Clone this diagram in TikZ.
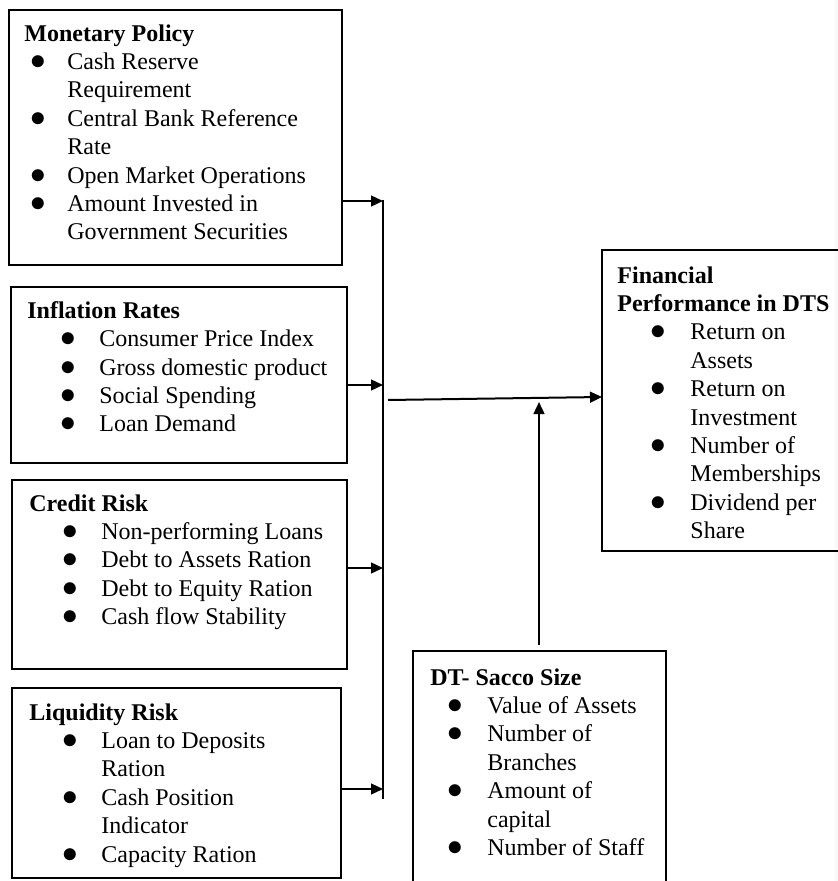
\documentclass[tikz,border=0pt]{standalone}
\usepackage{fontspec}
\setmainfont{Liberation Serif}
\usepackage{amssymb}
\usetikzlibrary{arrows.meta}

% bullet lines
\newcommand{\itm}[1]{\hspace*{\bulx}\makebox[0pt]{\scalebox{1.3}{$\bullet$}}\hspace*{\dimexpr\txtx-\bulx\relax}#1}
\newcommand{\cnt}[1]{\hspace*{\txtx}#1}

\tikzset{
	box/.style={draw, line width=1.1pt, anchor=north west, inner sep=0pt, outer sep=0pt},
	txt/.style={anchor=north west, inner sep=0pt, align=left, font=\fontsize{12}{14.2}\selectfont},
	ind/.style 2 args={execute at begin node={\def\bulx{#1}\def\txtx{#2}}},
	arr/.style={-{Triangle[length=6pt,width=5.4pt]}, line width=1pt},
	ln/.style={line width=1pt}
}

\begin{document}
\begin{tikzpicture}[x=0.5pt,y=-0.5pt]
			\useasboundingbox (0,0) rectangle (838,881);
			\fill[gray!5] (835,0) rectangle (838,881);
			% Boxes
			\node[box, minimum width=166.5pt, minimum height=127.5pt] (mon) at (9,10) {};
			\node[box, minimum width=168pt, minimum height=88pt] (inf) at (11,287) {};
			\node[box, minimum width=167.5pt, minimum height=94.5pt] (cre) at (12,480) {};
			\node[box, minimum width=164.5pt, minimum height=95pt] (liq) at (12,688) {};
			\node[box, minimum width=130pt, minimum height=150.5pt] (fin) at (602,250) {};
			\node[box, minimum width=126.5pt, minimum height=130pt] (dts) at (413,651) {};
			% Texts
			\node[txt, ind={7pt}{21.5pt}] (mont) at (24,24) {\textbf{Monetary Policy}\\
				\itm{Cash Reserve}\\ \cnt{Requirement}\\
				\itm{Central Bank Reference}\\ \cnt{Rate}\\
				\itm{Open Market Operations}\\
				\itm{Amount Invested in}\\ \cnt{Government Securities}};
			\node[txt, ind={20.5pt}{36pt}] (inft) at (27,301) {\textbf{Inflation Rates}\\
				\itm{Consumer Price Index}\\
				\itm{Gross domestic product}\\
				\itm{Social Spending}\\
				\itm{Loan Demand}};
			\node[txt, ind={20.5pt}{36pt}] (cret) at (29,494) {\textbf{Credit Risk}\\
				\itm{Non-performing Loans}\\
				\itm{Debt to Assets Ration}\\
				\itm{Debt to Equity Ration}\\
				\itm{Cash flow Stability}};
			\node[txt, ind={20.5pt}{36pt}] (liqt) at (29,703) {\textbf{Liquidity Risk}\\
				\itm{Loan to Deposits}\\ \cnt{Ration}\\
				\itm{Cash Position}\\ \cnt{Indicator}\\
				\itm{Capacity Ration}};
			\node[txt, ind={20.5pt}{36.5pt}] (fint) at (617,266) {\textbf{Financial}\\
				\textbf{Performance in DTS}\\
				\itm{Return on}\\ \cnt{Assets}\\
				\itm{Return on}\\ \cnt{Investment}\\
				\itm{Number of}\\ \cnt{Memberships}\\
				\itm{Dividend per}\\ \cnt{Share}};
			\node[txt, ind={12.5pt}{28.5pt}] (dtst) at (430,668) {\textbf{DT- Sacco Size}\\
				\itm{Value of Assets}\\
				\itm{Number of}\\ \cnt{Branches}\\
				\itm{Amount of}\\ \cnt{capital}\\
				\itm{Number of Staff}};
			% Arrows
			\coordinate (bt) at (383,200);
			\coordinate (bb) at (383,799);
			\draw[ln] (bt) -- (bb);
			\foreach \b/\y in {mon/201,inf/385,cre/568,liq/789}
			\draw[arr] (\b.east |- 0,\y) -- (383,\y);
			\coordinate (hs) at (388,400);
			\coordinate (he) at (602,397);
			\draw[arr] (hs) -- (fin.west |- he);
			\coordinate (up) at (539,402);
			\draw[arr] ([yshift=3pt]dts.north -| up) -- (up);
		\end{tikzpicture}
\end{document}
